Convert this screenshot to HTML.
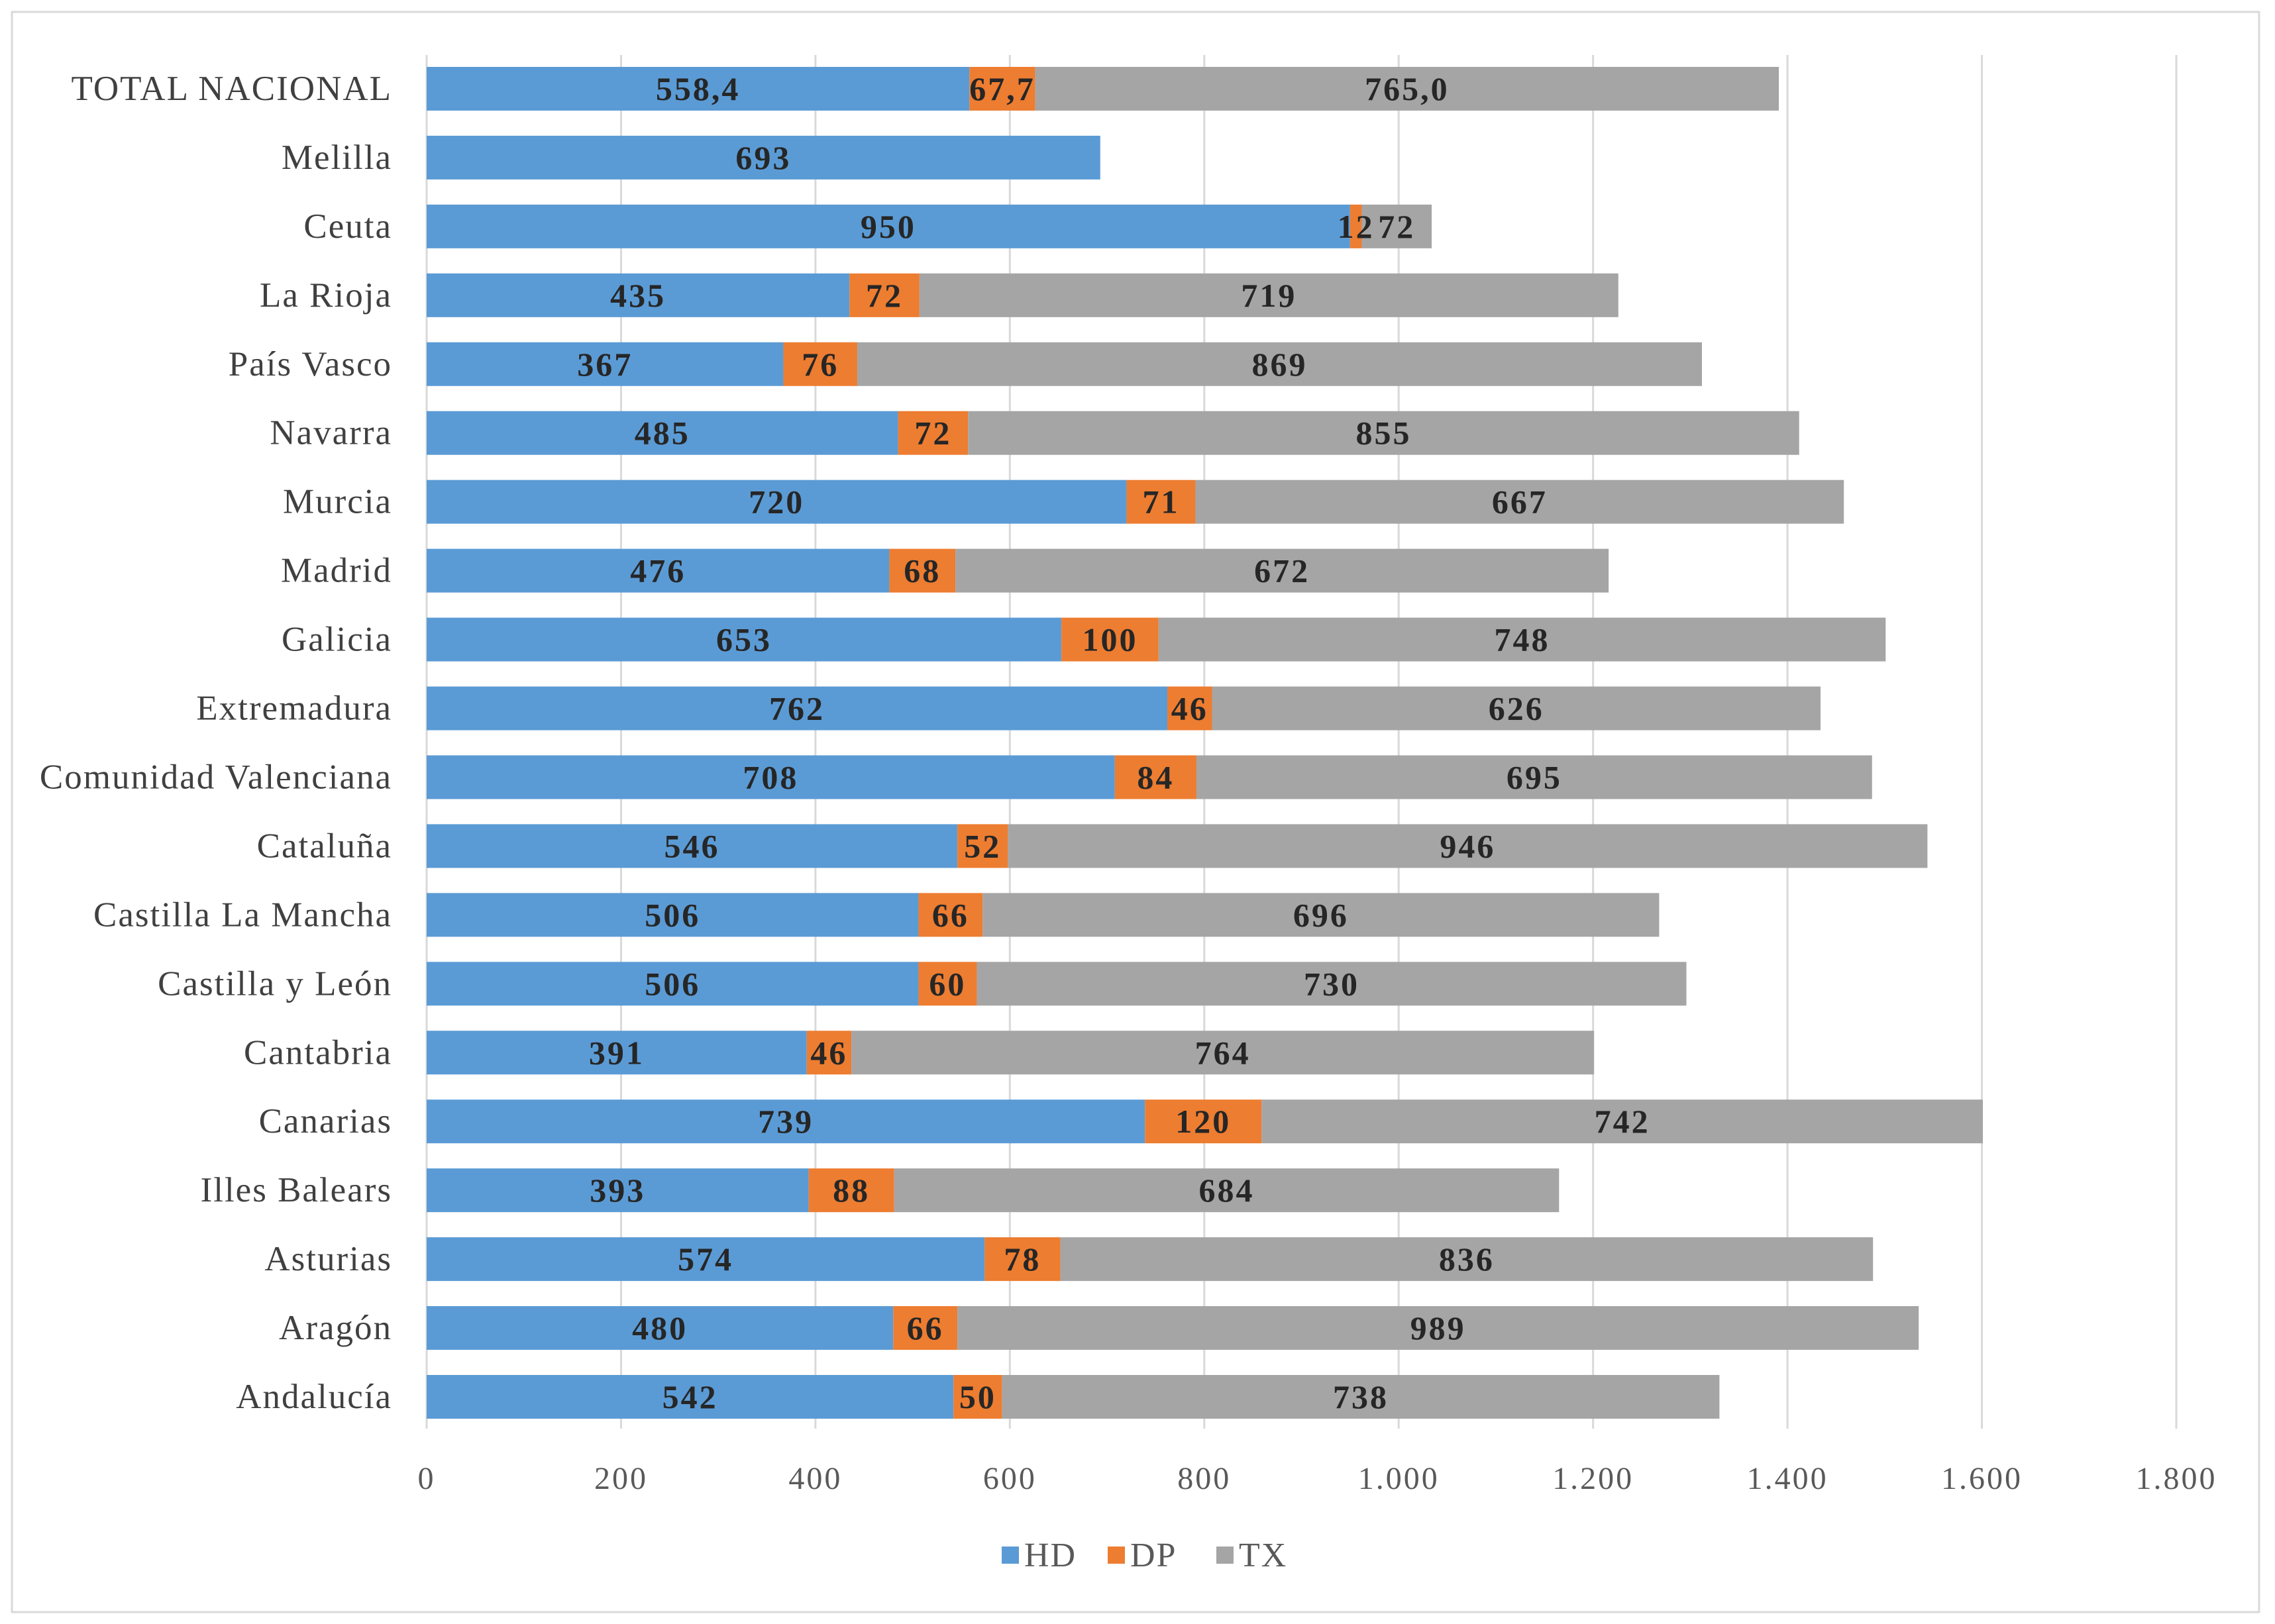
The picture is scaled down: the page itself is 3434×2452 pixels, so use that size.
<!DOCTYPE html>
<html><head><meta charset="utf-8"><style>
html,body{margin:0;padding:0;background:#fff;}
svg{display:block;}
</style></head><body>
<svg id="chart" width="3434" height="2452" xmlns="http://www.w3.org/2000/svg" font-family="'Liberation Serif', serif">
<rect x="18" y="18" width="3392" height="2416" fill="#fff" stroke="#d9d9d9" stroke-width="3"/>
<g id="grid"></g><g id="bars"></g><g id="labels"></g><g id="ticks"></g>
<g id="legend"></g>
</svg>
<script>
const categories = ["TOTAL NACIONAL","Melilla","Ceuta","La Rioja","País Vasco","Navarra","Murcia","Madrid","Galicia","Extremadura","Comunidad Valenciana","Cataluña","Castilla La Mancha","Castilla y León","Cantabria","Canarias","Illes Balears","Asturias","Aragón","Andalucía"];
const hd = [558.4,693,950,435,367,485,720,476,653,762,708,546,506,506,391,739,393,574,480,542];
const dp = [67.7,0,12,72,76,72,71,68,100,46,84,52,66,60,46,120,88,78,66,50];
const tx = [765.0,0,72,719,869,855,667,672,748,626,695,946,696,730,764,742,684,836,989,738];
const tickValues = [0,200,400,600,800,1000,1200,1400,1600,1800];
const tickLabels = ["0","200","400","600","800","1.000","1.200","1.400","1.600","1.800"];
const seriesNames = ["HD","DP","TX"];
const colors = ["#5B9BD5","#ED7D31","#A5A5A5"];

const NS="http://www.w3.org/2000/svg";
const X0=644, X1=3285, MAXV=1800;
const xs=v=>X0+(X1-X0)*v/MAXV;
const ROW0=134, ROWSTEP=(2109-134)/(categories.length-1), BH=66;
const ys=i=>ROW0+i*ROWSTEP;
function mk(tag,attrs,parent){const e=document.createElementNS(NS,tag);for(const k in attrs)e.setAttribute(k,attrs[k]);parent.appendChild(e);return e;}
const grid=document.getElementById('grid'),bars=document.getElementById('bars'),labels=document.getElementById('labels'),ticks=document.getElementById('ticks'),legend=document.getElementById('legend');

tickValues.forEach((v,i)=>{
  const l=mk('line',{x1:xs(v),x2:xs(v),y1:83,y2:2157,stroke:'#d9d9d9','stroke-width':3},grid);
  
  
  const t=mk('text',{x:xs(v),y:2248,'text-anchor':'middle','font-size':48,'letter-spacing':3,fill:'#595959'},ticks);
  t.textContent=tickLabels[i];
  
  
});

function fmt(v,i){return i===0?v.toFixed(1).replace('.',','):String(v);}
const series=[hd,dp,tx];
categories.forEach((c,i)=>{
  const cy=ys(i);
  const ct=mk('text',{x:592,y:cy+17,'text-anchor':'end','font-size':53,'letter-spacing':2,fill:'#404040'},labels);
  ct.textContent=c;
  
  
  let acc=0;
  series.forEach((s,k)=>{
    const v=s[i];
    if(v>0){
      const r=mk('rect',{x:xs(acc),y:cy-BH/2,width:xs(acc+v)-xs(acc),height:BH,fill:colors[k]},bars);
      
      
      const t=mk('text',{x:(xs(acc)+xs(acc+v))/2,y:cy+17,'text-anchor':'middle','font-size':50,'letter-spacing':3,'font-weight':'bold',fill:'#262626'},labels);
      t.textContent=fmt(v,i);
      
      
    }
    acc+=v;
  });
});

const lx=[1512,1672,1836];
seriesNames.forEach((n,k)=>{
  const r=mk('rect',{x:lx[k],y:2335,width:26,height:26,fill:colors[k]},legend);
  
  
  const t=mk('text',{x:lx[k]+34,y:2365,'font-size':52,'letter-spacing':2,fill:'#595959'},legend);
  t.textContent=n;
  
  
});
</script>
</body></html>
